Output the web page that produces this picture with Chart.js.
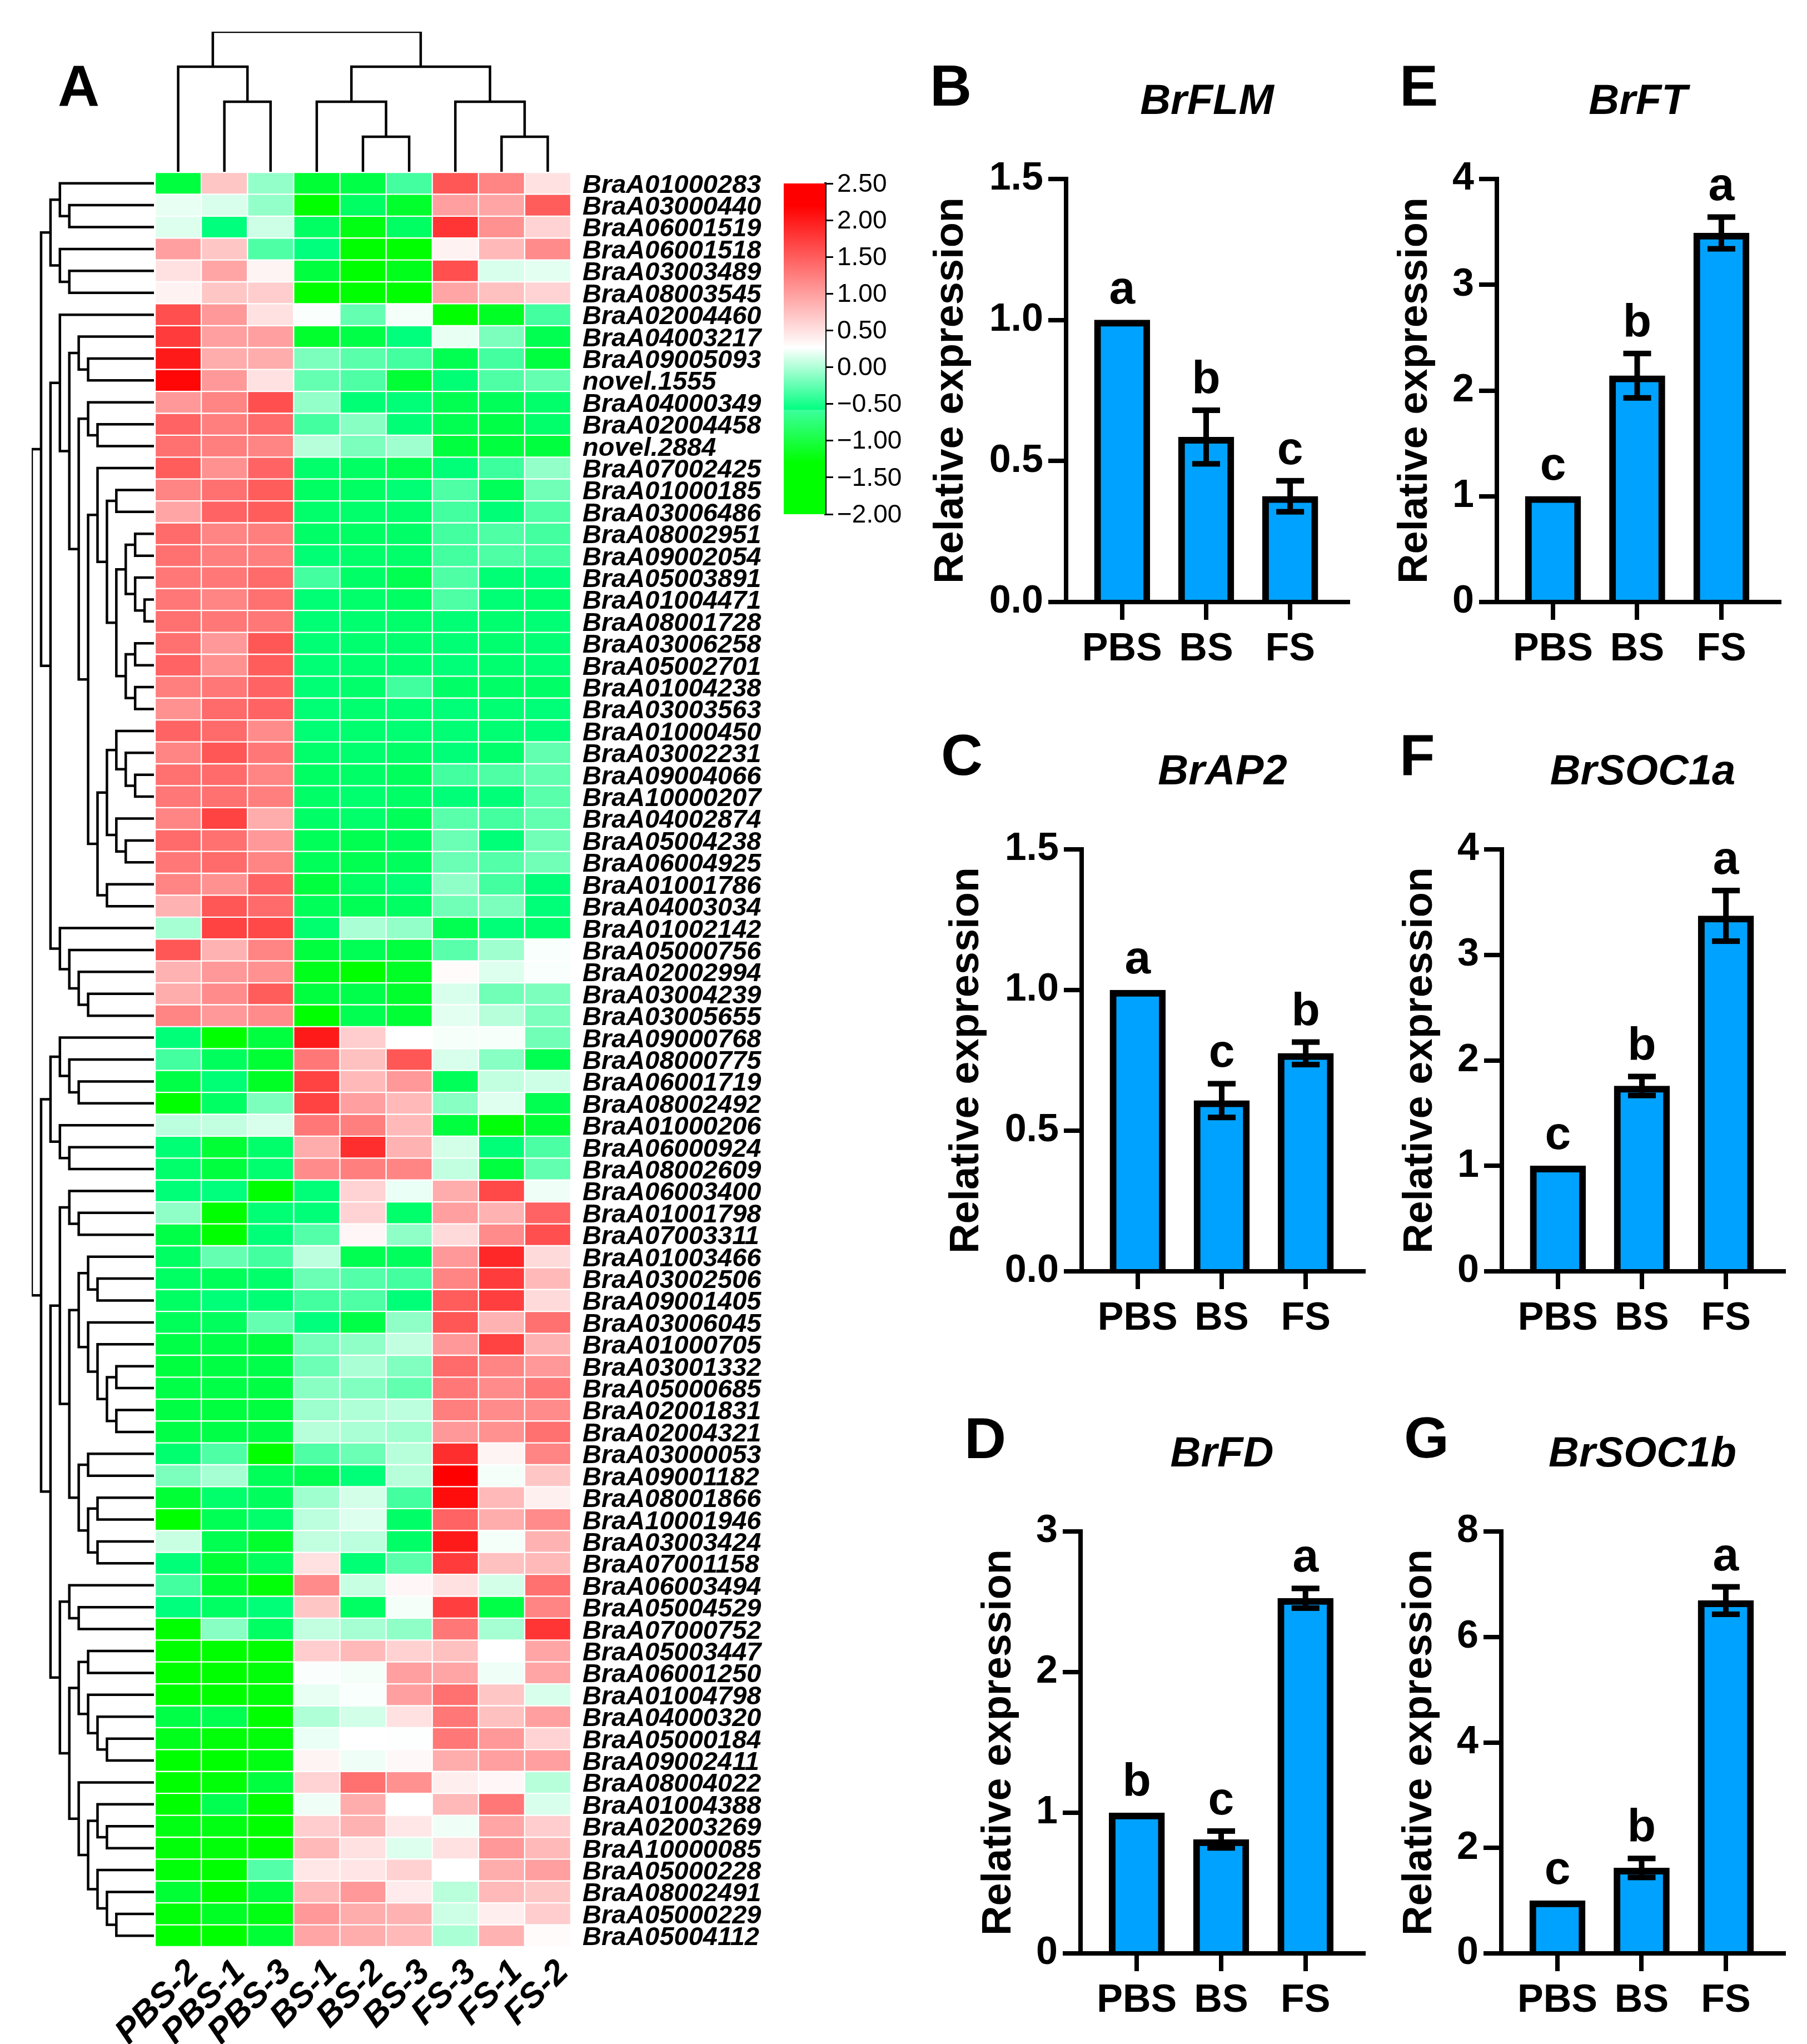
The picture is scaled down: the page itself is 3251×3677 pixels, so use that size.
<!DOCTYPE html>
<html>
<head>
<meta charset="utf-8">
<title>Heatmap and relative expression</title>
<script src="https://cdn.jsdelivr.net/npm/chart.js@4"></script>
<style>
  html, body { margin: 0; padding: 0; background: #fff; }
  #page { position: relative; width: 3251px; height: 3677px; overflow: hidden; background: #fff; }
  #page canvas { position: absolute; }
  .letter { position: absolute; font: bold 104px/104px "Liberation Sans", Arial, sans-serif; color: #000; }
</style>
</head>
<body>
<div id="page"></div>
<script>
const FONT = '"Liberation Sans", Arial, sans-serif';

/* ===== HEATMAP DATA ===== */

const colLabels = ["PBS-2", "PBS-1", "PBS-3", "BS-1", "BS-2", "BS-3", "FS-3", "FS-1", "FS-2"];

const rowLabels = [
  "BraA01000283", "BraA03000440", "BraA06001519", "BraA06001518", "BraA03003489", "BraA08003545",
  "BraA02004460", "BraA04003217", "BraA09005093", "novel.1555", "BraA04000349", "BraA02004458",
  "novel.2884", "BraA07002425", "BraA01000185", "BraA03006486", "BraA08002951", "BraA09002054",
  "BraA05003891", "BraA01004471", "BraA08001728", "BraA03006258", "BraA05002701", "BraA01004238",
  "BraA03003563", "BraA01000450", "BraA03002231", "BraA09004066", "BraA10000207", "BraA04002874",
  "BraA05004238", "BraA06004925", "BraA01001786", "BraA04003034", "BraA01002142", "BraA05000756",
  "BraA02002994", "BraA03004239", "BraA03005655", "BraA09000768", "BraA08000775", "BraA06001719",
  "BraA08002492", "BraA01000206", "BraA06000924", "BraA08002609", "BraA06003400", "BraA01001798",
  "BraA07003311", "BraA01003466", "BraA03002506", "BraA09001405", "BraA03006045", "BraA01000705",
  "BraA03001332", "BraA05000685", "BraA02001831", "BraA02004321", "BraA03000053", "BraA09001182",
  "BraA08001866", "BraA10001946", "BraA03003424", "BraA07001158", "BraA06003494", "BraA05004529",
  "BraA07000752", "BraA05003447", "BraA06001250", "BraA01004798", "BraA04000320", "BraA05000184",
  "BraA09002411", "BraA08004022", "BraA01004388", "BraA02003269", "BraA10000085", "BraA05000228",
  "BraA08002491", "BraA05000229", "BraA05004112"
];

// one line per gene, same column order as colLabels
const rowValues = [
  [-.95,.7,-.2,-1,-.9,-.55,1.55,1.2,.5],
  [.17,.1,-.2,-1.3,-.75,-1.05,1,.95,1.5],
  [.12,-.6,.05,-.75,-1.2,-.75,1.8,1.1,.6],
  [1,.7,-.5,-.6,-1.3,-1.3,.37,.8,1.15],
  [.5,.95,.35,-.95,-1.3,-1.15,1.6,.1,.15],
  [.37,.7,.65,-1.35,-1.35,-1.35,.95,.75,.6],
  [1.6,1.05,.5,.25,-.4,.22,-1.35,-1.1,-.55],
  [1.75,1,1,-1.05,-.9,-.6,.17,-.3,-.85],
  [2,.9,.9,-.3,-.45,-.55,-.85,-.55,-.95],
  [2.15,1.05,.5,-.4,-.5,-1,-.65,-.5,-.4],
  [1.05,1.2,1.6,-.2,-.65,-.62,-.85,-.8,-.7],
  [1.45,1.25,1.4,-.55,-.25,-.63,-.85,-.9,-.7],
  [1.35,1.25,1.2,-.05,-.3,-.15,-.95,-.95,-.95],
  [1.5,1.1,1.45,-.7,-.75,-.85,-.62,-.58,-.2],
  [1.2,1.35,1.5,-.75,-.75,-.65,-.5,-.8,-.35],
  [.95,1.45,1.5,-.7,-.7,-.7,-.55,-.63,-.5],
  [1.4,1.2,1.25,-.72,-.75,-.72,-.55,-.5,-.55],
  [1.35,1.25,1.25,-.65,-.7,-.7,-.55,-.5,-.55],
  [1.3,1.3,1.4,-.55,-.72,-.85,-.5,-.65,-.6],
  [1.3,1.2,1.35,-.65,-.7,-.75,-.5,-.65,-.68],
  [1.35,1.3,1.3,-.65,-.68,-.7,-.65,-.68,-.65],
  [1.35,1.05,1.55,-.65,-.68,-.68,-.65,-.68,-.65],
  [1.45,1.1,1.5,-.65,-.68,-.68,-.62,-.68,-.65],
  [1.25,1.3,1.45,-.65,-.7,-.56,-.72,-.72,-.72],
  [1.1,1.4,1.45,-.65,-.68,-.66,-.62,-.66,-.62],
  [1.45,1.4,1.15,-.65,-.68,-.66,-.65,-.66,-.62],
  [1.2,1.55,1.3,-.7,-.68,-.72,-.62,-.7,-.42],
  [1.35,1.4,1.2,-.75,-.72,-.78,-.55,-.5,-.42],
  [1.3,1.35,1.25,-.72,-.68,-.72,-.62,-.62,-.45],
  [1.2,1.7,.9,-.72,-.7,-.8,-.45,-.55,-.42],
  [1.4,1.35,1.05,-.8,-.85,-.78,-.38,-.62,-.35],
  [1.3,1.4,1.2,-.8,-.85,-.78,-.38,-.48,-.35],
  [1.2,1.1,1.45,-.95,-.75,-.65,-.22,-.55,-.62],
  [.85,1.55,1.4,-.8,-.82,-.75,-.35,-.3,-.62],
  [-.12,1.7,1.65,-.68,-.1,-.2,-.85,-.62,-.68],
  [1.55,.85,1.2,-.95,-.82,-.95,-.45,-.15,.24],
  [.85,1.05,1.1,-1.15,-1.35,-1.1,.3,.12,.24],
  [.9,1.15,1.5,-.95,-.88,-1.05,.1,-.35,-.3],
  [1.2,1.05,1.15,-1.3,-.85,-1,.15,-.05,-.3],
  [-.62,-1.35,-.95,2,.65,.27,.23,.23,-.35],
  [-.55,-.78,-1,1.3,.75,1.55,.1,-.25,-.85],
  [-.9,-.65,-1.1,1.7,.8,1.05,-.8,0,.05],
  [-1.3,-.75,-.3,1.7,1,.8,-.25,.13,-.85],
  [-.02,0,.1,1.3,1.25,.8,-.95,-1.25,-1],
  [-.65,-1,-.7,.9,1.85,.85,.08,-.62,-.52],
  [-.7,-.95,-.68,1.15,1.25,1.2,0,-.95,-.42],
  [-.62,-.6,-1.3,-.62,.6,.18,.9,1.65,.2],
  [-.22,-1.3,-.65,-.62,.6,-.7,1,.85,1.45],
  [-.9,-1.3,-.62,-.48,.33,-.22,.55,1.15,1.6],
  [-.75,-.4,-.55,-.02,-.85,-.78,1.05,1.9,.55],
  [-.75,-.8,-.7,-.38,-.48,-.55,1.2,1.75,.8],
  [-.75,-.62,-.65,-.55,-.5,-.62,1.5,1.72,.55],
  [-.8,-.78,-.4,-.6,-.9,-.22,1.55,.85,1.35],
  [-.9,-.9,-.95,-.33,-.22,0,1.05,1.7,.85],
  [-.95,-.92,-.88,-.36,-.1,-.28,1.4,1.2,1.05],
  [-.9,-.9,-.92,-.24,-.28,-.42,1.3,1.15,1.3],
  [-.92,-.95,-.95,-.16,-.08,-.02,1.25,1.15,1.15],
  [-.9,-.9,-.92,-.05,-.1,-.15,1.05,1.1,1.35],
  [-.68,-.5,-1.3,-.5,-.38,-.05,1.85,.35,1.2],
  [-.3,-.12,-.8,-.85,-.62,-.05,2.3,.22,.7],
  [-1,-.7,-.78,-.15,.08,-.55,2.1,.8,.38],
  [-1.3,-.82,-.7,-.02,.12,-.72,1.45,.9,1.15],
  [.03,-.85,-1.05,0,-.02,-.72,2,.22,.85],
  [-.62,-1,-.78,.5,-.65,-.45,1.75,.75,.8],
  [-.55,-1,-1.25,1.15,.02,.33,.5,.08,1.35],
  [-.6,-.75,-.62,.7,-.75,.22,1.72,-.9,1.2],
  [-1.35,-.25,-.75,0,-.12,-.22,1.3,-.12,1.8],
  [-1.35,-1.3,-1.3,.65,.8,.62,.75,.27,.95],
  [-1.35,-1.35,-1.25,.25,.22,1,.95,.2,.95],
  [-1.3,-1.3,-1.25,.17,.24,1,1.35,.7,.1],
  [-.9,-.85,-1.3,-.08,.07,.5,1.3,.75,1],
  [-1.15,-1.25,-1.25,.18,.27,.26,1.3,1.05,.6],
  [-1.3,-1.35,-1.2,.35,.2,.32,.9,1,1],
  [-1.3,-1.25,-.95,.6,1.35,1.1,.4,.33,-.05],
  [-1.3,-.85,-1.3,.2,.9,.27,.8,1.3,.1],
  [-1.2,-1.2,-1.35,.65,.85,.45,.2,.95,.65],
  [-1.25,-1.25,-1.3,.8,.5,.12,.5,1.05,.8],
  [-1.25,-1.35,-.48,.45,.47,.62,.27,.9,1],
  [-1,-1.35,-.95,.8,1.05,.42,-.03,.8,.7],
  [-1.25,-1.1,-1.2,1.05,.9,.85,.05,.4,.65],
  [-1.3,-1.35,-1,.95,.9,.8,-.1,.85,.3]
];

const legendTicks = [2.5, 2, 1.5, 1, 0.5, 0, -0.5, -1, -1.5, -2];
const legendValues = [2.5, 2.2, 0.27, -0.58, -0.58, -1.3, -2];
const legendColors = ["#ff0000", "#ff0000", "#ffffff", "#3cff9d", "#00ff80", "#00ff00", "#00ff00"];

/* ===== DENDROGRAMS: [merge level, left, right], numbers are row or column indexes ===== */

const colTree = [4, [3, 0, [2, 1, 2]], [3, [2, 3, [1, 4, 5]], [2, 6, [1, 7, 8]]]];

const treeM = [3, [2, 16, 17], [2, 18, [1, 19, 20]]];
const treeN = [3, [2, 21, 22], [2, 23, 24]];
const treeI = [6, 13, [5, [4, 14, 15], [4, treeM, treeN]]];
const treeQ = [4, 25, [3, 26, [2, 27, 28]]];
const treeR = [4, 29, [3, 30, 31]];
const treeL = [6, [5, treeQ, treeR], [5, 32, 33]];
const treeF = [8, [7, 10, [6, 11, 12]], [7, treeI, treeL]];
const treeC = [10, 6, [9, [8, 7, [7, 8, 9]], treeF]];
const treeT = [10, 34, [9, 35, [8, 36, [7, 37, 38]]]];
const treeUp = [12, [11, [10, 0, [9, 1, 2]], [10, 3, [9, 4, 5]]], [11, treeC, treeT]];
const treeU = [11, [10, 39, [9, 40, [8, 41, 42]]], [10, 43, [9, 44, 45]]];
const treeAD = [7, 52, [6, 53, [5, [4, 54, 55], [4, 56, 57]]]];
const treeAB = [8, [7, 49, [6, 50, 51]], treeAD];
const treeAE = [8, [7, 58, 59], [7, [6, 60, 61], [6, 62, 63]]];
const treeY = [10, [9, 46, [8, 47, 48]], [9, treeAB, treeAE]];
const treeAI = [8, [7, 67, 68], [7, 69, [6, 70, [5, 71, 72]]]];
const treeAJ = [8, 73, [7, [6, 74, [5, 75, 76]], [6, 77, [5, 78, [4, 79, 80]]]]];
const treeAF = [10, [9, 64, [8, 65, 66]], [9, treeAI, treeAJ]];
const rowTree = [13, treeUp, [12, treeU, [11, treeY, treeAF]]];

/* ===== BAR DATA ===== */

const groups = ["PBS", "BS", "FS"];
const flmMeans = [1, 0.585, 0.375], flmErrs = [0, 0.095, 0.055], flmLetters = ["a", "b", "c"];
const ap2Means = [1, 0.607, 0.775], ap2Errs = [0, 0.06, 0.04], ap2Letters = ["a", "c", "b"];
const fdMeans = [1, 0.81, 2.525], fdErrs = [0, 0.06, 0.07], fdLetters = ["b", "c", "a"];
const ftMeans = [1, 2.14, 3.49], ftErrs = [0, 0.21, 0.15], ftLetters = ["c", "b", "a"];
const soc1aMeans = [1, 1.757, 3.37], soc1aErrs = [0, 0.09, 0.24], soc1aLetters = ["c", "b", "a"];
const soc1bMeans = [1, 1.62, 6.69], soc1bErrs = [0, 0.18, 0.26], soc1bLetters = ["c", "b", "a"];

/* ===== HELPERS ===== */

const page = document.getElementById("page");

function addCanvas(left, top, width, height) {
  const c = document.createElement("canvas");
  c.width = width;
  c.height = height;
  c.style.left = left + "px";
  c.style.top = top + "px";
  c.style.width = width + "px";
  c.style.height = height + "px";
  page.appendChild(c);
  return c;
}

function addLetter(text, left, baseline) {
  const d = document.createElement("div");
  d.className = "letter";
  d.textContent = text;
  d.style.left = left + "px";
  d.style.top = (baseline - 88) + "px";
  page.appendChild(d);
}

// keeps long tick labels from pushing the plot area around
function noTickPadding(s) {
  s.paddingLeft = 0;
  s.paddingRight = 0;
  s.paddingTop = 0;
  s.paddingBottom = 0;
}

function cellColor(v) {
  if (v >= 2.2) return "rgb(255,0,0)";
  if (v >= 0.27) {
    const g = Math.round(255 * (1 - (v - 0.27) / 1.93));
    return `rgb(255,${g},${g})`;
  }
  if (v >= -0.58) {
    const t = (0.27 - v) / 0.85;
    return `rgb(${Math.round(255 - 195 * t)},255,${Math.round(255 - 98 * t)})`;
  }
  if (v >= -1.3) return `rgb(0,255,${Math.round(128 * (1 - (-0.58 - v) / 0.72))})`;
  return "rgb(0,255,0)";
}

// walks a merge tree and returns the elbow path, broken by NaN points
function treePath(node, pts) {
  if (typeof node === "number") return { h: 0, p: node };
  const a = treePath(node[1], pts);
  const b = treePath(node[2], pts);
  pts.push({ h: a.h, p: a.p }, { h: node[0], p: a.p }, { h: node[0], p: b.p }, { h: b.h, p: b.p }, { h: NaN, p: NaN });
  return { h: node[0], p: (a.p + b.p) / 2 };
}

function dendroChart(canvas, points, xScale, yScale) {
  return new Chart(canvas, {
    type: "scatter",
    data: { datasets: [{
      data: points,
      showLine: true,
      spanGaps: false,
      pointRadius: 0,
      borderColor: "#000",
      borderWidth: 4.5,
      borderJoinStyle: "miter",
      clip: false
    }] },
    options: {
      responsive: false,
      animation: false,
      events: [],
      plugins: { legend: { display: false }, tooltip: { enabled: false } },
      scales: { x: xScale, y: yScale }
    }
  });
}

/* ===== PANEL A ===== */

function drawHeatmap() {
  const canvas = addCanvas(159, 310, 1250, 3367);
  const datasets = colLabels.map((name, c) => ({
    label: name,
    data: rowValues.map(() => 1),
    backgroundColor: rowValues.map(r => cellColor(r[c])),
    borderColor: "#fff",
    borderWidth: 1.5,
    borderSkipped: false,
    barPercentage: 1,
    categoryPercentage: 1
  }));
  new Chart(canvas, {
    type: "bar",
    data: { labels: rowLabels, datasets: datasets },
    options: {
      indexAxis: "y",
      responsive: false,
      animation: false,
      events: [],
      layout: { padding: { left: 120 } },
      plugins: { legend: { display: false }, tooltip: { enabled: false } },
      scales: {
        x: {
          type: "linear",
          stacked: true,
          min: 0,
          max: 9,
          grid: { display: false },
          border: { display: false },
          afterBuildTicks: s => { s.ticks = colLabels.map((n, i) => ({ value: i + 0.5 })); },
          afterFit: s => { s.height = 175; noTickPadding(s); },
          ticks: {
            autoSkip: false,
            minRotation: 45,
            maxRotation: 45,
            padding: 2,
            labelOffset: 28,
            color: "#000",
            font: { family: FONT, size: 62, weight: "bold", style: "italic" },
            callback: (v, i) => colLabels[i]
          }
        },
        y: {
          type: "category",
          position: "right",
          stacked: true,
          grid: { display: false, drawTicks: false },
          border: { display: false },
          afterFit: s => { s.width = 382; noTickPadding(s); },
          ticks: {
            autoSkip: false,
            padding: 21,
            labelOffset: 4,
            color: "#000",
            font: { family: FONT, size: 47, weight: "bold", style: "italic" }
          }
        }
      }
    }
  });
}

function drawDendrograms() {
  const colPts = [];
  treePath(colTree, colPts);
  dendroChart(addCanvas(279, 57, 748, 252),
    colPts.map(o => ({ x: o.p, y: o.h })),
    { type: "linear", display: false, min: -0.5, max: 8.5 },
    { type: "linear", display: false, min: 0, max: 4 });

  const rowPts = [];
  treePath(rowTree, rowPts);
  dendroChart(addCanvas(57, 310, 220, 3192),
    rowPts.map(o => ({ x: o.h, y: o.p })),
    { type: "linear", display: false, reverse: true, min: 0, max: 13 },
    { type: "linear", display: false, reverse: true, min: -0.5, max: 80.5 });
}

function drawColorKey() {
  const canvas = addCanvas(1410, 290, 270, 680);
  new Chart(canvas, {
    type: "bar",
    data: {
      labels: ["key"],
      datasets: [{
        data: [[-2, 2.5]],
        barPercentage: 1,
        categoryPercentage: 1,
        backgroundColor: ctx => {
          const area = ctx.chart.chartArea;
          if (!area) return "#fff";
          const g = ctx.chart.ctx.createLinearGradient(0, area.bottom, 0, area.top);
          legendValues.forEach((v, i) => g.addColorStop((v + 2) / 4.5, legendColors[i]));
          return g;
        }
      }]
    },
    options: {
      responsive: false,
      animation: false,
      events: [],
      layout: { padding: { top: 40, bottom: 680 - 40 - 595 } },
      plugins: { legend: { display: false }, tooltip: { enabled: false } },
      scales: {
        x: { display: false },
        y: {
          position: "right",
          min: -2,
          max: 2.5,
          afterBuildTicks: s => { s.ticks = legendTicks.map(v => ({ value: v })); },
          afterFit: s => { s.width = 270 - 75; noTickPadding(s); },
          grid: { drawOnChartArea: false, color: "#000", lineWidth: 3, tickLength: 14 },
          border: { color: "#000", width: 4 },
          ticks: {
            padding: 7,
            labelOffset: 2,
            color: "#000",
            autoSkip: false,
            font: { family: FONT, size: 46 },
            callback: v => v.toFixed(2).replace("-", "\u2212")
          }
        }
      }
    }
  });
}

/* ===== BAR PANELS ===== */

const errorBars = {
  id: "errorBars",
  afterDatasetsDraw(chart, args, opts) {
    const c = chart.ctx, ys = chart.scales.y, xs = chart.scales.x;
    c.save();
    c.fillStyle = "#000";
    opts.means.forEach((m, i) => {
      const x = xs.getPixelForValue(i);
      const hi = ys.getPixelForValue(m + opts.errs[i]);
      const lo = ys.getPixelForValue(m - opts.errs[i]);
      if (opts.errs[i] > 0) {
        c.fillRect(x - 5, hi, 10, lo - hi);
        c.fillRect(x - 25, hi - 5, 50, 10);
        c.fillRect(x - 25, lo - 5, 50, 10);
      }
      c.font = `bold 84px ${FONT}`;
      c.textAlign = "center";
      c.textBaseline = "alphabetic";
      c.fillText(opts.letters[i], x, hi - 30);
    });
    c.restore();
  }
};

function barPanel(axisX, top, bottom, right, title, means, errs, letters, yMax, yStep, decimals, titleShift) {
  const left = axisX - 280;
  const canvasTop = top - 200;
  const canvas = addCanvas(left, canvasTop, right - left + 20, bottom - canvasTop + 170);
  new Chart(canvas, {
    type: "bar",
    data: {
      datasets: [{
        data: means.map((m, i) => ({ x: i, y: m })),
        backgroundColor: "#00a2ff",
        borderColor: "#000",
        borderWidth: 12,
        borderSkipped: "bottom",
        barThickness: 100
      }]
    },
    plugins: [errorBars],
    options: {
      responsive: false,
      animation: false,
      events: [],
      layout: { padding: { right: 20 } },
      plugins: {
        legend: { display: false },
        tooltip: { enabled: false },
        errorBars: { means: means, errs: errs, letters: letters },
        title: {
          display: true,
          text: title,
          fullSize: false,
          color: "#000",
          font: { family: FONT, size: 76, weight: "bold", style: "italic", lineHeight: 1.2 },
          padding: { top: 16.4, bottom: 92.4 }
        }
      },
      scales: {
        x: {
          type: "linear",
          offset: false,
          min: -0.667,
          max: 2.687,
          afterBuildTicks: s => { s.ticks = groups.map((g, i) => ({ value: i })); },
          afterFit: s => { s.height = 170; noTickPadding(s); },
          grid: { offset: false, drawOnChartArea: false, color: "#000", lineWidth: 8, tickLength: 32 },
          border: { color: "#000", width: 8, z: 1 },
          ticks: {
            autoSkip: false,
            maxRotation: 0,
            minRotation: 0,
            padding: 12,
            color: "#000",
            font: { family: FONT, size: 70, weight: "bold" },
            callback: (v, i) => groups[i]
          }
        },
        y: {
          min: 0,
          max: yMax,
          afterBuildTicks: s => {
            s.ticks = [];
            for (let v = 0; v <= yMax + 1e-6; v += yStep) s.ticks.push({ value: v });
          },
          afterFit: s => { s.width = 280; noTickPadding(s); },
          grid: { drawOnChartArea: false, color: "#000", lineWidth: 8, tickLength: 32 },
          border: { color: "#000", width: 8 },
          title: {
            display: true,
            text: "Relative expression",
            color: "#000",
            font: { family: FONT, size: 74, weight: "bold", lineHeight: 1.2 },
            padding: { top: titleShift, bottom: 0 }
          },
          ticks: {
            padding: 9,
            color: "#000",
            font: { family: FONT, size: 70, weight: "bold" },
            callback: v => v.toFixed(decimals)
          }
        }
      }
    }
  });
}

/* ===== DRAW ===== */

drawDendrograms();
drawHeatmap();
drawColorKey();

barPanel(1918, 322, 1083, 2425, "BrFLM", flmMeans, flmErrs, flmLetters, 1.5, 0.5, 1, 29);
barPanel(1946, 1528, 2287, 2453, "BrAP2", ap2Means, ap2Errs, ap2Letters, 1.5, 0.5, 1, 29);
barPanel(1944, 2755, 3514, 2453, "BrFD", fdMeans, fdErrs, fdLetters, 3, 1, 0, 89);
barPanel(2693, 322, 1083, 3201, "BrFT", ftMeans, ftErrs, ftLetters, 4, 1, 0, 89);
barPanel(2702, 1528, 2287, 3209, "BrSOC1a", soc1aMeans, soc1aErrs, soc1aLetters, 4, 1, 0, 89);
barPanel(2701, 2755, 3514, 3209, "BrSOC1b", soc1bMeans, soc1bErrs, soc1bLetters, 8, 2, 0, 89);

addLetter("A", 104, 190);
addLetter("B", 1673, 190);
addLetter("E", 2518, 190);
addLetter("C", 1693, 1394);
addLetter("F", 2518, 1394);
addLetter("D", 1735, 2623);
addLetter("G", 2526, 2622);
</script>
</body>
</html>
